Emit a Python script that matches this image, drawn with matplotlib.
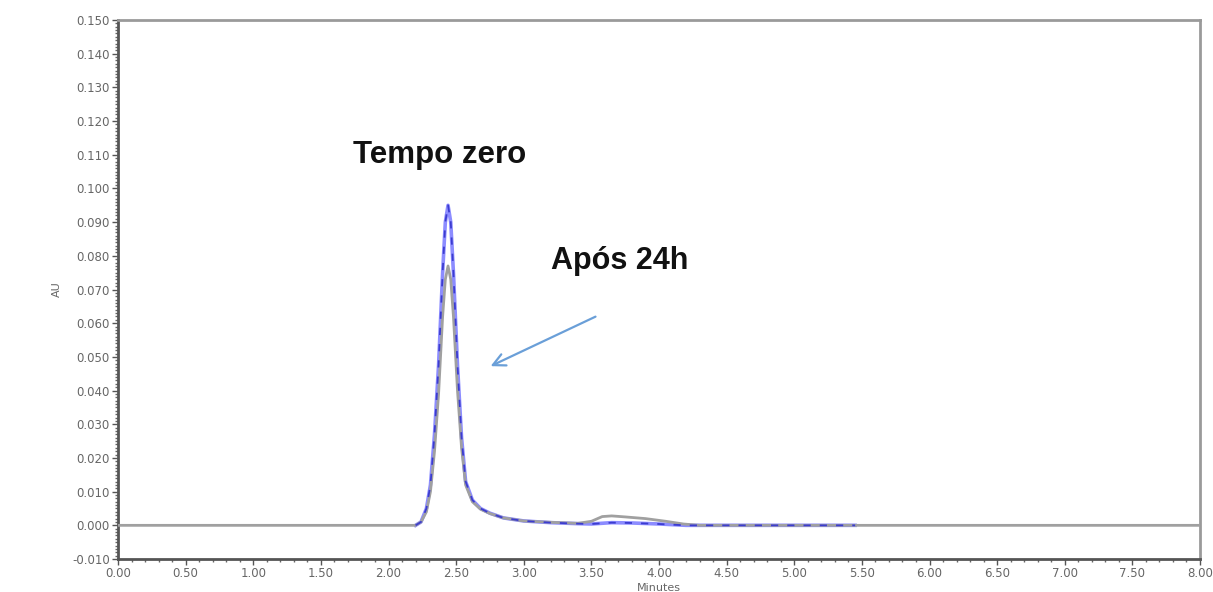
import matplotlib
matplotlib.use("Agg")
import matplotlib.pyplot as plt
from matplotlib.ticker import MultipleLocator, FormatStrFormatter

plt.rcParams["font.family"] = ["Liberation Sans", "DejaVu Sans"]

# -------------- DATA --------------
# Tempo zero (blue trace)
t_zero = [2.20, 2.24, 2.28, 2.31, 2.34, 2.37, 2.40, 2.42, 2.44, 2.46, 2.48,
          2.51, 2.54, 2.57, 2.62, 2.68, 2.75, 2.85, 3.00, 3.20, 3.40, 3.50,
          3.65, 3.80, 4.00, 4.20, 4.60, 5.00, 5.45]
au_zero = [0.0, 0.001, 0.005, 0.012, 0.027, 0.0475, 0.075, 0.090, 0.095,
           0.090, 0.075, 0.0475, 0.026, 0.013, 0.0075, 0.0050, 0.0036,
           0.0022, 0.0013, 0.0008, 0.0005, 0.0004, 0.0008, 0.0007, 0.0004,
           0.0, 0.0, 0.0, 0.0]

# Após 24h (gray trace)
t_24h = [0.00, 2.20, 2.24, 2.28, 2.31, 2.34, 2.37, 2.40, 2.42, 2.44, 2.46,
         2.48, 2.51, 2.54, 2.57, 2.62, 2.68, 2.75, 2.85, 3.00, 3.20, 3.40,
         3.50, 3.58, 3.65, 3.75, 3.90, 4.05, 4.18, 4.30, 8.00]
au_24h = [0.0, 0.0, 0.001, 0.004, 0.010, 0.022, 0.039, 0.062, 0.073, 0.077,
          0.073, 0.062, 0.040, 0.023, 0.012, 0.007, 0.0048, 0.0035, 0.0022,
          0.0013, 0.0009, 0.0006, 0.0012, 0.0026, 0.0028, 0.0025, 0.0020,
          0.0012, 0.0004, 0.0, 0.0]

x_ticks = [0.0, 0.5, 1.0, 1.5, 2.0, 2.5, 3.0, 3.5, 4.0, 4.5, 5.0, 5.5, 6.0,
           6.5, 7.0, 7.5, 8.0]
# --------------------------------------------------------------

fig = plt.figure(figsize=(12.13, 5.92), dpi=100)
ax = fig.add_axes([0.0973, 0.0557, 0.892, 0.9105])

# blue trace: light halo, gray on top, then sparse dark blue dashes
ax.plot(t_zero, au_zero, color="#8c8cff", lw=2.6, zorder=2)
ax.plot(t_24h, au_24h, color="#a0a0a0", lw=2.0, zorder=3)
ax.plot(t_zero, au_zero, color="#3c3cd0", lw=1.3, zorder=4,
        dashes=(4, 5))

ax.set_xlim(0, 8)
ax.set_ylim(-0.010, 0.150)
ax.set_xticks(x_ticks)
ax.xaxis.set_major_formatter(FormatStrFormatter("%.2f"))
ax.xaxis.set_minor_locator(MultipleLocator(0.1))
ax.yaxis.set_major_locator(MultipleLocator(0.010))
ax.yaxis.set_major_formatter(FormatStrFormatter("%.3f"))
ax.yaxis.set_minor_locator(MultipleLocator(0.001))

ax.tick_params(which="major", length=4, width=1, color="#555555",
               labelsize=8.5, labelcolor="#666666", pad=2)
ax.tick_params(which="minor", length=2, width=1, color="#666666")
for lab in ax.get_xticklabels() + ax.get_yticklabels():
    lab.set_family("DejaVu Sans")

for side in ["left", "bottom"]:
    ax.spines[side].set_color("#555555")
    ax.spines[side].set_linewidth(2)
for side in ["top", "right"]:
    ax.spines[side].set_color("#9a9a9a")
    ax.spines[side].set_linewidth(2)

ax.set_ylabel("AU", fontsize=8, color="#666666", family="DejaVu Sans")
ax.yaxis.set_label_coords(-0.052, 0.50)
ax.set_xlabel("Minutes", fontsize=8, color="#666666", family="DejaVu Sans",
              va="center")
ax.xaxis.set_label_coords(0.5, -0.054)

ax.text(2.38, 0.1098, "Tempo zero", ha="center", va="center",
        fontsize=22.5, fontweight="bold", color="#111111")
ax.text(3.71, 0.0785, "Após 24h", ha="center", va="center",
        fontsize=22, fontweight="bold", color="#111111")
ax.annotate("", xy=(2.736, 0.0469), xytext=(3.549, 0.0623),
            arrowprops=dict(arrowstyle="->", color="#6a9fd8", lw=1.6,
                            mutation_scale=22))

fig.savefig("out.png", dpi=100)
